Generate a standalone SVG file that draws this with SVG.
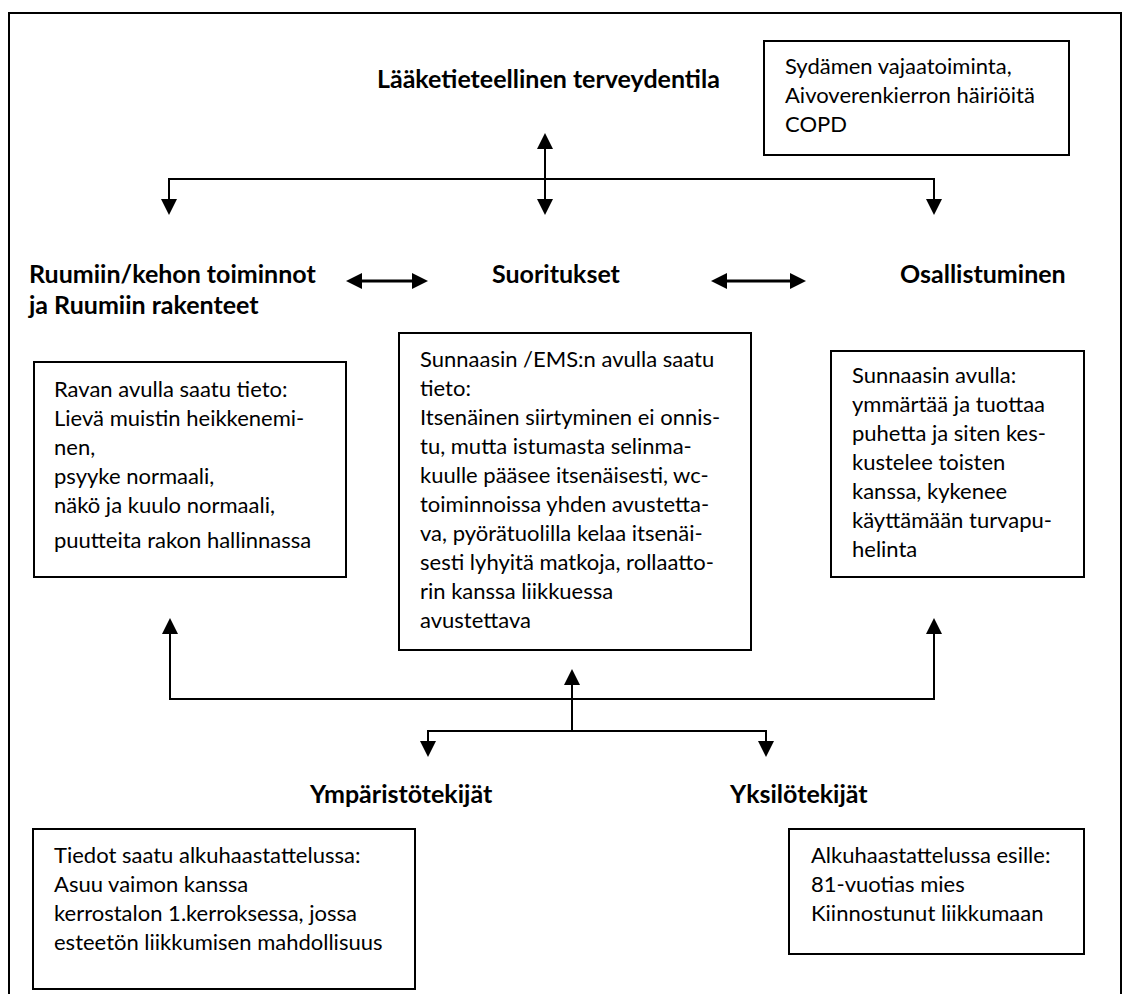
<svg xmlns="http://www.w3.org/2000/svg" width="1122" height="994" viewBox="0 0 1122 994">
<style>
  .frame{fill:none;stroke:#000;stroke-width:2}
  .box{fill:#fff;stroke:#000;stroke-width:2}
  .t{font-family:Lato,"Liberation Sans",sans-serif;font-size:22px;fill:#000}
  .h{font-family:Lato,"Liberation Sans",sans-serif;font-size:25px;font-weight:bold;fill:#000}
  .c{fill:none;stroke:#000;stroke-width:2}
  .c3{fill:none;stroke:#000;stroke-width:3}
</style>
<defs>
  <marker id="ah" markerUnits="userSpaceOnUse" markerWidth="17" markerHeight="16" refX="12" refY="8" orient="auto-start-reverse" viewBox="0 0 17 16">
    <path d="M0,0 L16,8 L0,16 Z" fill="#000"/>
  </marker>
</defs>
<rect width="1122" height="994" fill="#fff"/>
<path class="frame" d="M9,994 V13 H1121 V994"/>

<g id="connectors">
  <path class="c" d="M169,211 V179 H934 V211" marker-start="url(#ah)" marker-end="url(#ah)"/>
  <path class="c" d="M545,137 V211" marker-start="url(#ah)" marker-end="url(#ah)"/>
  <path class="c3" d="M350,281 H424" marker-start="url(#ah)" marker-end="url(#ah)"/>
  <path class="c3" d="M715,281 H802" marker-start="url(#ah)" marker-end="url(#ah)"/>
  <path class="c" d="M170,622 V699 H934 V622" marker-start="url(#ah)" marker-end="url(#ah)"/>
  <path class="c" d="M572,731 V673" marker-end="url(#ah)"/>
  <path class="c" d="M428,753 V731 H766 V753" marker-start="url(#ah)" marker-end="url(#ah)"/>
</g>

<g id="health">
  <text class="h" x="377" y="88">Lääketieteellinen terveydentila</text>
</g>
<g id="diagnoses">
  <rect class="box" x="764" y="41" width="305" height="114"/>
  <text class="t" x="785" y="74">Sydämen vajaatoiminta,</text>
  <text class="t" x="785" y="103">Aivoverenkierron häiriöitä</text>
  <text class="t" x="785" y="132">COPD</text>
</g>
<g id="body">
  <text class="h" x="29" y="283">Ruumiin/kehon toiminnot</text>
  <text class="h" x="29" y="314">ja Ruumiin rakenteet</text>
</g>
<g id="activities">
  <text class="h" x="492" y="283">Suoritukset</text>
</g>
<g id="participation">
  <text class="h" x="900" y="283">Osallistuminen</text>
</g>
<g id="body-box">
  <rect class="box" x="34" y="362" width="312" height="215"/>
  <text class="t" x="54" y="397">Ravan avulla saatu tieto:</text>
  <text class="t" x="54" y="426">Lievä muistin heikkenemi-</text>
  <text class="t" x="54" y="455">nen,</text>
  <text class="t" x="54" y="484">psyyke normaali,</text>
  <text class="t" x="54" y="513">näkö ja kuulo normaali,</text>
  <text class="t" x="54" y="548">puutteita rakon hallinnassa</text>
</g>
<g id="activities-box">
  <rect class="box" x="399" y="333" width="352" height="317"/>
  <text class="t" x="420" y="367">Sunnaasin /EMS:n avulla saatu</text>
  <text class="t" x="420" y="396">tieto:</text>
  <text class="t" x="420" y="425">Itsenäinen siirtyminen ei onnis-</text>
  <text class="t" x="420" y="454">tu, mutta istumasta selinma-</text>
  <text class="t" x="420" y="483">kuulle pääsee itsenäisesti, wc-</text>
  <text class="t" x="420" y="512">toiminnoissa yhden avustetta-</text>
  <text class="t" x="420" y="541">va, pyörätuolilla kelaa itsenäi-</text>
  <text class="t" x="420" y="570">sesti lyhyitä matkoja, rollaatto-</text>
  <text class="t" x="420" y="599">rin kanssa liikkuessa</text>
  <text class="t" x="420" y="628">avustettava</text>
</g>
<g id="participation-box">
  <rect class="box" x="831" y="351" width="253" height="226"/>
  <text class="t" x="852" y="383">Sunnaasin avulla:</text>
  <text class="t" x="852" y="412">ymmärtää ja tuottaa</text>
  <text class="t" x="852" y="441">puhetta ja siten kes-</text>
  <text class="t" x="852" y="470">kustelee toisten</text>
  <text class="t" x="852" y="499">kanssa, kykenee</text>
  <text class="t" x="852" y="528">käyttämään turvapu-</text>
  <text class="t" x="852" y="557">helinta</text>
</g>
<g id="environment">
  <text class="h" x="310" y="803">Ympäristötekijät</text>
</g>
<g id="personal">
  <text class="h" x="730" y="803">Yksilötekijät</text>
</g>
<g id="environment-box">
  <rect class="box" x="33" y="829" width="382" height="160"/>
  <text class="t" x="54" y="863">Tiedot saatu alkuhaastattelussa:</text>
  <text class="t" x="54" y="892">Asuu vaimon kanssa</text>
  <text class="t" x="54" y="921">kerrostalon 1.kerroksessa, jossa</text>
  <text class="t" x="54" y="950">esteetön liikkumisen mahdollisuus</text>
</g>
<g id="personal-box">
  <rect class="box" x="789" y="829" width="295" height="125"/>
  <text class="t" x="811" y="863">Alkuhaastattelussa esille:</text>
  <text class="t" x="811" y="892">81-vuotias mies</text>
  <text class="t" x="811" y="921">Kiinnostunut liikkumaan</text>
</g>
</svg>
